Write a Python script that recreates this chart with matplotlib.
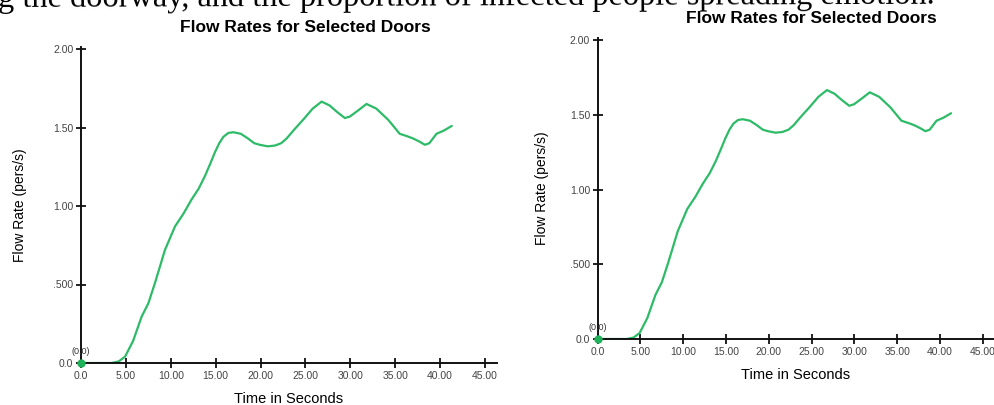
import matplotlib
matplotlib.use("Agg")
import matplotlib.pyplot as plt

# flow rate
time_s = [0, 3.4, 4.2, 4.9, 5.8, 6.75, 7.5, 8.24, 9.35, 10.47, 11.4, 12.3, 13.1,
          13.8, 14.4, 14.9, 15.4, 15.85, 16.4, 16.96, 17.8, 18.6, 19.3, 19.9,
          20.8, 21.6, 22.3, 22.9, 23.8, 24.75, 25.8, 26.8, 27.7, 28.5, 29.4,
          29.95, 30.9, 31.8, 32.9, 34.2, 35.5, 36.3, 37.0, 37.7, 38.3, 38.8,
          39.6, 40.4, 41.3]
flow = [0, 0, 0.01, 0.04, 0.14, 0.295, 0.38, 0.51, 0.72, 0.87, 0.95, 1.04, 1.11,
        1.19, 1.27, 1.34, 1.40, 1.44, 1.465, 1.47, 1.46, 1.43, 1.40, 1.39,
        1.38, 1.385, 1.40, 1.43, 1.49, 1.55, 1.62, 1.665, 1.64, 1.60, 1.56,
        1.57, 1.61, 1.65, 1.62, 1.55, 1.46, 1.445, 1.43, 1.41, 1.39, 1.40,
        1.46, 1.48, 1.51]

x_ticks = [0, 5, 10, 15, 20, 25, 30, 35, 40, 45]
x_labels = ["0.0", "5.00", "10.00", "15.00", "20.00", "25.00", "30.00",
            "35.00", "40.00", "45.00"]
y_ticks = [0, 0.5, 1.0, 1.5, 2.0]
y_labels = ["0.0", ".500", "1.00", "1.50", "2.00"]

title = "Flow Rates for Selected Doors"
narrow = ["Liberation Sans Narrow", "Liberation Sans", "DejaVu Sans"]
W, H = 994, 405


def draw_panel(fig, x0, x45, y0, y2, title_x, title_y, ylab_pad):
    ppx = (x45 - x0) / 45.0
    ppy = (y0 - y2) / 2.0
    xmax = 46.3
    ymax = 2.013
    ax = fig.add_axes([x0 / W, (H - y0) / H, xmax * ppx / W, ymax * ppy / H])
    ax.plot(time_s, flow, color="#2dbb68", lw=1.6, solid_capstyle="round")
    ax.plot([0], [0], "o", color="#1fb25a", ms=5, clip_on=False, zorder=5)
    ax.text(0, 0.06, "(0,0)", fontsize=6.5, color="#333333", ha="center",
            family=narrow)
    ax.set_xlim(0, xmax)
    ax.set_ylim(0, ymax)
    for s in ["top", "right"]:
        ax.spines[s].set_visible(False)
    for s in ["left", "bottom"]:
        ax.spines[s].set_linewidth(1.4)
        ax.spines[s].set_color("#111111")
    ax.set_xticks(x_ticks)
    ax.set_xticklabels(x_labels, family=narrow, fontsize=7.5, color="#444444")
    ax.set_yticks(y_ticks)
    ax.set_yticklabels(y_labels, family=narrow, fontsize=7.5, color="#444444")
    ax.tick_params(direction="inout", length=7, width=1.3, color="#111111",
                   pad=2)
    ax.set_xlabel("Time in Seconds", fontsize=10.5, family="Liberation Sans",
                  labelpad=8)
    ax.set_ylabel("Flow Rate (pers/s)", fontsize=10, family="Liberation Sans",
                  labelpad=ylab_pad)
    fig.text(title_x / W, 1 - title_y / H, title, fontsize=12.5,
             fontweight="bold", family=narrow, ha="center", va="center")
    return ax


fig = plt.figure(figsize=(W / 100, H / 100), dpi=100)

# cut-off sentence from the surrounding page (scan is slightly tilted)
fig.text(-2 / W, 1 - 7 / H,
         "g the doorway, and the proportion of infected people spreading emotion.",
         fontsize=23.3, family="Liberation Serif", va="baseline", ha="left",
         rotation=0.2, rotation_mode="anchor")

draw_panel(fig, 81, 485, 363, 49, 305, 27, 19)
draw_panel(fig, 597.7, 982.7, 339, 40, 811, 18.5, 15)

fig.savefig("out.png", dpi=100)
